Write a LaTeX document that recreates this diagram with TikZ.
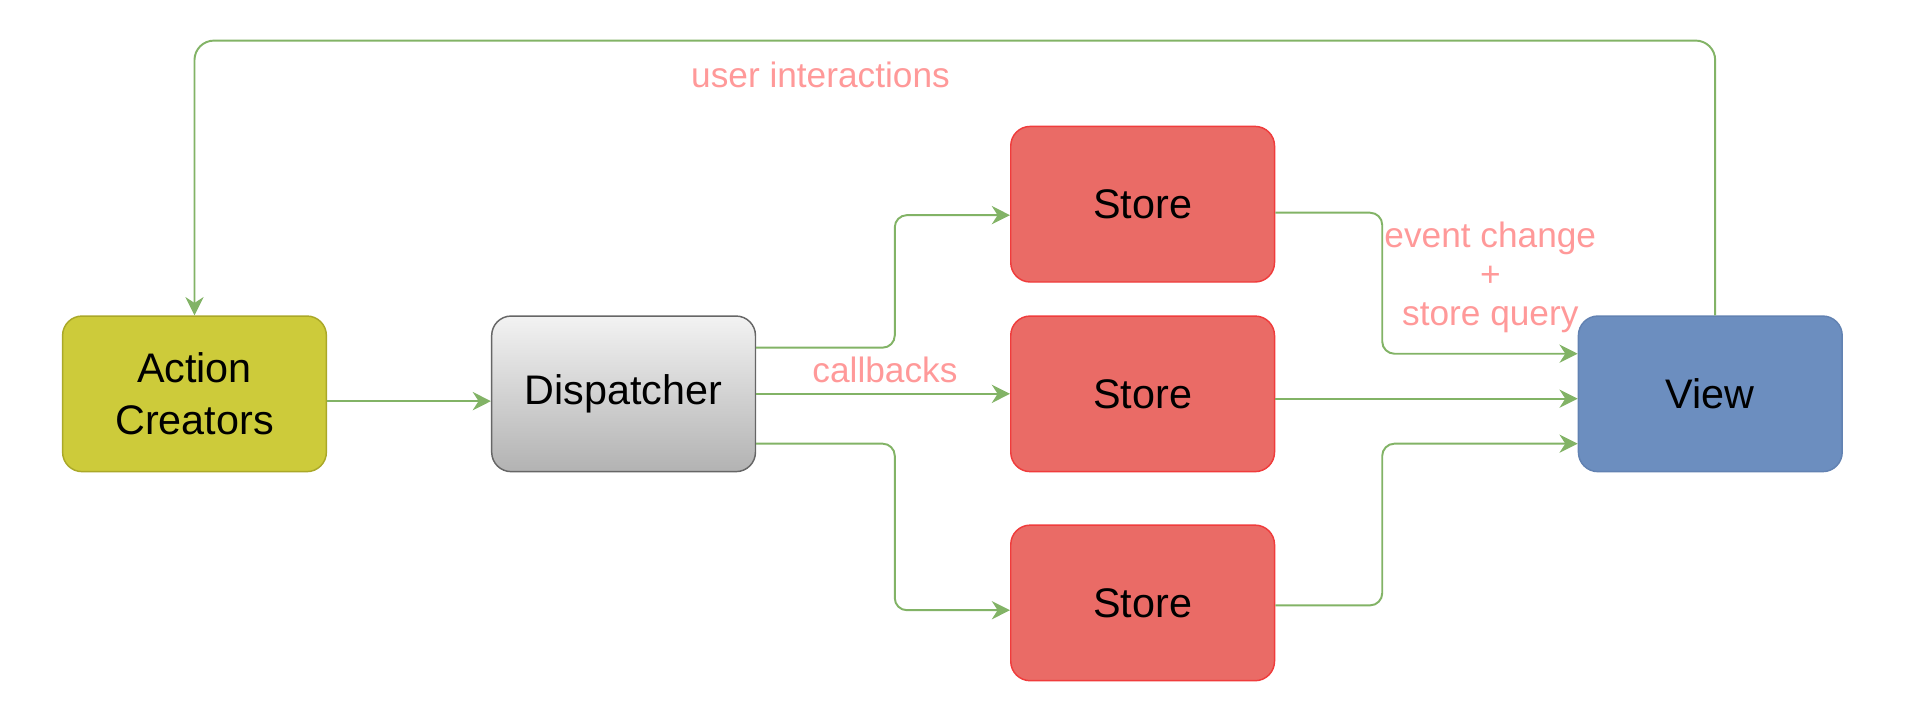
\documentclass[tikz,border=0pt]{standalone}
\usepackage{fontspec}
\setmainfont{Liberation Sans}
\usetikzlibrary{arrows.meta}

\definecolor{flowgreen}{RGB}{130,179,102}
\definecolor{notepink}{RGB}{255,153,153}
\definecolor{actionfill}{RGB}{205,203,58}
\definecolor{actionline}{RGB}{170,168,40}
\definecolor{storefill}{RGB}{234,107,102}
\definecolor{storeline}{RGB}{240,60,60}
\definecolor{viewfill}{RGB}{108,142,191}
\definecolor{viewline}{RGB}{98,130,178}

\begin{document}
\begin{tikzpicture}[x=0.5pt,y=0.5pt,yscale=-1,xscale=1,
  box/.style={rounded corners=8pt, minimum width=108.5pt, minimum height=64pt,
    align=center, line width=0.6pt, font=\fontsize{17}{21.5}\selectfont},
  storebox/.style={box, fill=storefill, draw=storeline},
  flow/.style={draw=flowgreen, line width=0.8pt, rounded corners=5pt,
    -{Stealth[length=7.5pt,width=7.5pt,inset=2.4pt]}},
  note/.style={text=notepink, align=center, font=\fontsize{14.5}{16}\selectfont}]
\useasboundingbox (0,0) rectangle (1568,587);

% Boxes
\draw (160,324) node [box, fill=actionfill, draw=actionline] (creators) {Action\\Creators};
\draw (513,324) node [box, top color=white!95!black, bottom color=black!30, draw=black!60] (dispatcher) {Dispatcher};
\draw (940,168) node [storebox] (store1) {Store};
\draw (940,324) node [storebox] (store2) {Store};
\draw (940,496) node [storebox] (store3) {Store};
\draw (1407,324) node [box, fill=viewfill, draw=viewline] (view) {View};

%Straight Lines (yshift follows yscale=-1: positive is down)
\draw [flow, rounded corners=8pt] ([xshift=2pt]view.north) -- ++(0,-226) -| (creators.north);
\draw [flow] ([yshift=3pt]creators.east) -- ([yshift=3pt]dispatcher.west);

%Straight Lines
\draw [flow] ([yshift=-19pt]dispatcher.east) -- ++(114,0) |- ([yshift=4.5pt]store1.west);
\draw [flow] (dispatcher.east) -- (store2.west);
\draw [flow] ([yshift=20.5pt]dispatcher.east) -- ++(114,0) |- ([yshift=3pt]store3.west);

%Straight Lines
\draw [flow] ([yshift=3.5pt]store1.east) -- ++(88,0) |- ([yshift=-16.5pt]view.west);
\draw [flow] ([yshift=2pt]store2.east) -- ([yshift=2pt]view.west);
\draw [flow] ([yshift=1pt]store3.east) -- ++(88,0) |- ([yshift=20.5pt]view.west);

% Text Node
\draw (675,62) node [note] (interactions) {user interactions};
% Text Node
\draw (728,304) node [note] (callbacks) {callbacks};
% Text Node
\draw (1226,228) node [note] (eventchange) {event change\\+\\store query};

\end{tikzpicture}
\end{document}
